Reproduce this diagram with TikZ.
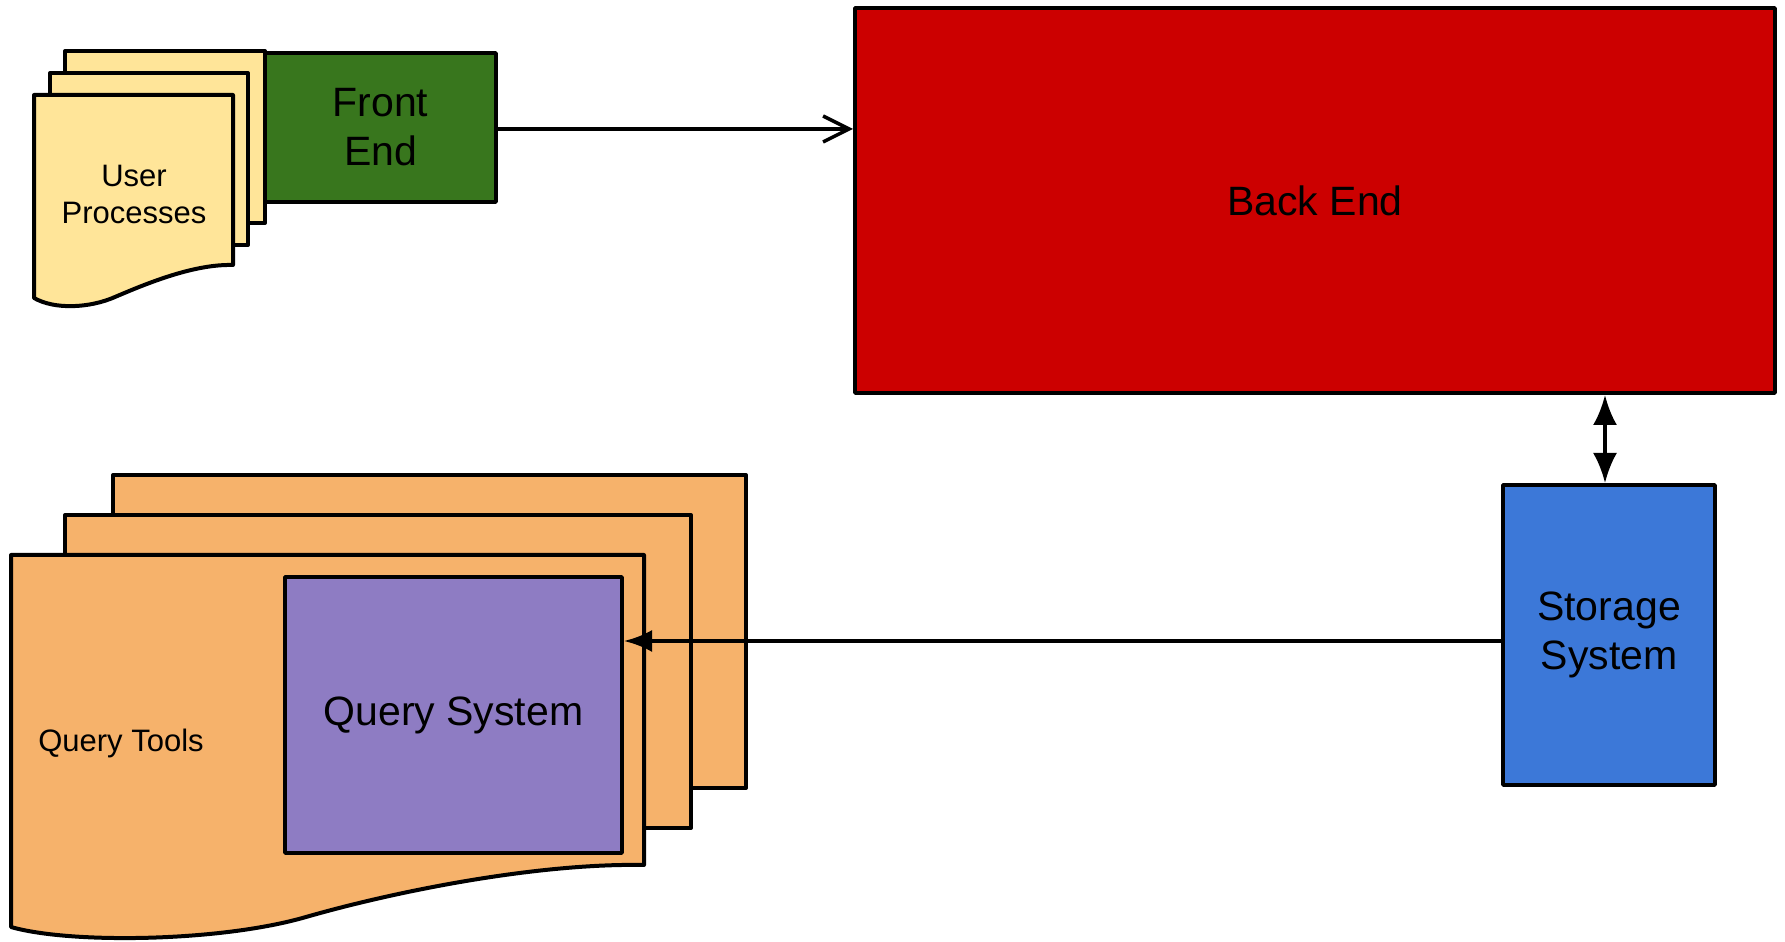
\documentclass[tikz,border=0pt]{standalone}
\usepackage{fontspec}
\setmainfont{Liberation Sans}
\usepackage{tikz}
\usetikzlibrary{arrows.meta}
\definecolor{sheetyellow}{HTML}{FFE599}
\definecolor{sheetorange}{HTML}{F6B26B}
\definecolor{frontgreen}{HTML}{38761D}
\definecolor{backred}{HTML}{CC0000}
\definecolor{storeblue}{HTML}{3C78D8}
\definecolor{querypurple}{HTML}{8E7CC3}
\tikzset{
  block/.style={draw=black,line width=4bp,inner sep=0pt,align=center,
    font=\fontsize{41bp}{49bp}\selectfont},
  sheet/.style={draw=black,line width=4bp,line join=round},
  link/.style={black,line width=3.5bp},
}
\begin{document}
\begin{tikzpicture}[line join=bevel,]
\useasboundingbox (0bp,0bp) rectangle (1785bp,942bp);
%% user processes stack
\draw [sheet,fill=sheetyellow] (65bp,719bp) rectangle (265bp,891bp);
\draw [sheet,fill=sheetyellow] (50bp,697bp) rectangle (248bp,869bp);
\draw [sheet,fill=sheetyellow] (34bp,847bp) -- (233bp,847bp) -- (233bp,677bp)
  ..controls (195bp,678bp) and (150bp,660bp) .. (115bp,645bp)
  ..controls (90bp,634bp) and (55bp,632bp) .. (34bp,644bp) -- cycle;
\node (user_proc) at (134bp,748bp) [align=center,font=\fontsize{31bp}{37bp}\selectfont] {User\\Processes};
%% query tools stack
\draw [sheet,fill=sheetorange] (113bp,154bp) rectangle (746bp,467bp);
\draw [sheet,fill=sheetorange] (65bp,114bp) rectangle (691bp,427bp);
\draw [sheet,fill=sheetorange] (11bp,387bp) -- (644bp,387bp) -- (644bp,77bp)
  ..controls (540bp,79bp) and (400bp,52bp) .. (306bp,25bp)
  ..controls (220bp,0bp) and (70bp,-2bp) .. (11bp,15bp) -- cycle;
\node (query_tools) at (121bp,199bp) [font=\fontsize{31bp}{37bp}\selectfont] {Query Tools};
%%
\node (front_end) at (380.5bp,814.5bp) [block,fill=frontgreen,minimum width=231bp,minimum height=149bp] {Front\\End};
\node (back_end) at (1315bp,741.5bp) [block,fill=backred,minimum width=920bp,minimum height=385bp] {Back End};
\node (storage) at (1609bp,307bp) [block,fill=storeblue,minimum width=212bp,minimum height=300bp] {Storage\\System};
\node (query_sys) at (453.5bp,227bp) [block,fill=querypurple,minimum width=337bp,minimum height=276bp] {Query System};
\draw [link,-{Straight Barb[length=26bp,width=26bp]}] ([yshift=-1.5bp]front_end.east) -- ([yshift=-1.5bp]front_end.east -| back_end.west);
\draw [link,{Latex[length=30bp,width=24bp]}-{Latex[length=30bp,width=24bp]}] ([xshift=-4bp]storage.north) -- ([xshift=-4bp]storage.north |- back_end.south);
\draw [link,-{Latex[length=28bp,width=22bp]}] ([yshift=-6bp]storage.west) -- ([yshift=-6bp]storage.west -| query_sys.east);
%
\end{tikzpicture}
\end{document}
